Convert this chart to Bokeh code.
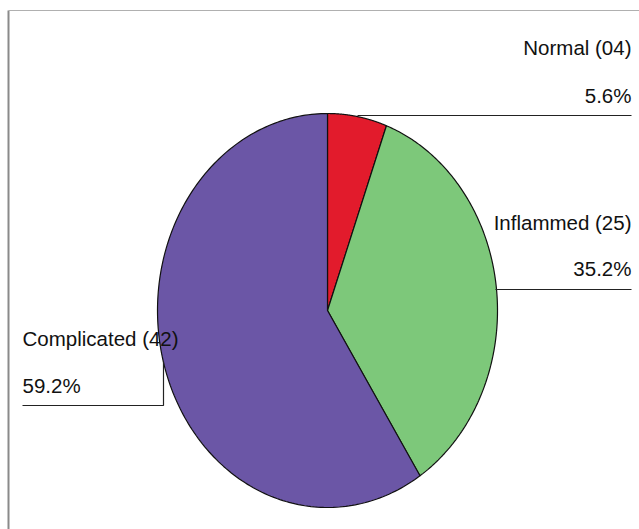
import numpy as np
from bokeh.plotting import figure
from bokeh.models import Range1d, ColumnDataSource
from bokeh.core.properties import value
from bokeh.embed import file_html
from bokeh.resources import INLINE

# ---- data ----
categories = ["Normal", "Inflammed", "Complicated"]
counts = [4, 25, 42]
colors = ["#E21B2C", "#7DC87A", "#6B56A6"]

# ---- layout ----
W, H = 639, 529
cx, cy, rx, ry = 327, 310, 170, 197

p = figure(width=W, height=H, output_backend="svg", toolbar_location=None,
           x_range=Range1d(0, W), y_range=Range1d(H, 0), min_border=0)
p.axis.visible = False
p.grid.visible = False
p.outline_line_color = None
p.background_fill_color = "white"

total = sum(counts)
fracs = [c / total for c in counts]
cum = np.concatenate([[0], np.cumsum(fracs)])
xs, ys = [], []
for i in range(len(counts)):
    th = np.linspace(cum[i] * 2 * np.pi, cum[i + 1] * 2 * np.pi, 200)
    x = np.concatenate([[cx], cx + rx * np.sin(th), [cx]])
    y = np.concatenate([[cy], cy - ry * np.cos(th), [cy]])
    xs.append(list(x)); ys.append(list(y))

p.patches(xs=xs, ys=ys, fill_color=colors, line_color="#111111", line_width=1.2)

# frame (partial border as in reference)
p.line([8, 8], [10, H], line_color="#8a8a8a", line_width=2)
p.line([8, W], [10, 10], line_color="#b0b0b0", line_width=1.2)

# leader lines
p.line([357, 631], [115, 115], line_color="#222222", line_width=1.2)
p.line([495, 631], [289, 289], line_color="#222222", line_width=1.2)
p.line([22, 163, 163], [405, 405, 361], line_color="#222222", line_width=1.2)

names = [f"{c} ({n:02d})" for c, n in zip(categories, counts)]
pcts = [f"{f*100:.1f}%" for f in fracs]

right = ColumnDataSource(dict(x=[631, 631, 631, 631],
                              y=[47, 95, 222, 268],
                              t=[names[0], pcts[0], names[1], pcts[1]]))
left = ColumnDataSource(dict(x=[22, 22], y=[338, 385], t=[names[2], pcts[2]]))

common = dict(text="t", text_font=value("Liberation Sans"), text_font_size="20.5px",
              text_color="#111111", text_baseline="middle")
p.text(x="x", y="y", source=right, text_align="right", **common)
p.text(x="x", y="y", source=left, text_align="left", **common)

open("out.html", "w").write(file_html(p, INLINE))
